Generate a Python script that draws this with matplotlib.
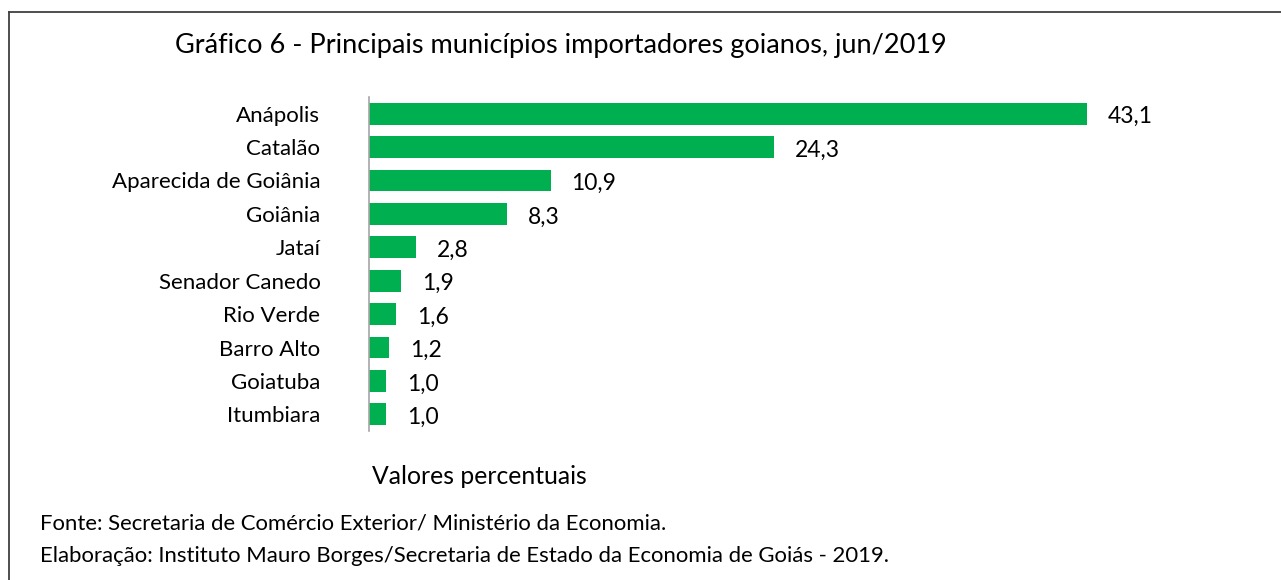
import matplotlib
matplotlib.use("Agg")
import matplotlib.pyplot as plt
from matplotlib.lines import Line2D

municipios = ["Anápolis", "Catalão", "Aparecida de Goiânia", "Goiânia", "Jataí",
              "Senador Canedo", "Rio Verde", "Barro Alto", "Goiatuba", "Itumbiara"]
valores = [43.1, 24.3, 10.9, 8.3, 2.8, 1.9, 1.6, 1.2, 1.0, 1.0]
rotulos = ["43,1", "24,3", "10,9", "8,3", "2,8", "1,9", "1,6", "1,2", "1,0", "1,0"]

titulo = "Gráfico 6 - Principais municípios importadores goianos, jun/2019"
eixo_x = "Valores percentuais"
fonte = "Fonte: Secretaria de Comércio Exterior/ Ministério da Economia."
elab = "Elaboração: Instituto Mauro Borges/Secretaria de Estado da Economia de Goiás - 2019."

plt.rcParams['font.family'] = ['Lato', 'DejaVu Sans']

W, H = 1281, 580
fig = plt.figure(figsize=(W / 100, H / 100), dpi=100)
fig.patch.set_facecolor('white')

x0, x1 = 369, 1202
ytop, ybot = 97, 431
ax = fig.add_axes([x0 / W, 1 - ybot / H, (x1 - x0) / W, (ybot - ytop) / H])

pos = list(range(len(municipios)))
ax.barh(pos, valores, height=0.65, color='#00B050')
ax.set_xlim(0, 50)
ax.set_ylim(len(municipios) - 0.5, -0.5)
ax.set_yticks(pos)
ax.set_yticklabels(municipios, fontsize=16)
ax.tick_params(axis='y', length=0, pad=35)
ax.set_xticks([])
for s in ['top', 'right', 'bottom']:
    ax.spines[s].set_visible(False)
ax.spines['left'].set_color('#A6A6A6')
ax.spines['left'].set_linewidth(1.2)

for p, v, t in zip(pos, valores, rotulos):
    ax.annotate(t, xy=(v, p), xytext=(21, -3), textcoords='offset pixels',
                va='center', ha='left', fontsize=16.5)

fig.text(561 / W, 1 - 46 / H, titulo, ha='center', va='center', fontsize=19.5)
fig.text(479 / W, 1 - 476 / H, eixo_x, ha='center', va='center', fontsize=17.8)
fig.text(40 / W, 1 - 524 / H, fonte, ha='left', va='center', fontsize=15.9)
fig.text(40 / W, 1 - 556 / H, elab, ha='left', va='center', fontsize=15.9)

fig.add_artist(Line2D([9 / W, 9 / W], [1 - 12 / H, 0], transform=fig.transFigure,
                      color='#404040', lw=1.3))
fig.add_artist(Line2D([9 / W, 1], [1 - 12 / H, 1 - 12 / H], transform=fig.transFigure,
                      color='#404040', lw=1.3))

fig.savefig("out.png", dpi=100)
